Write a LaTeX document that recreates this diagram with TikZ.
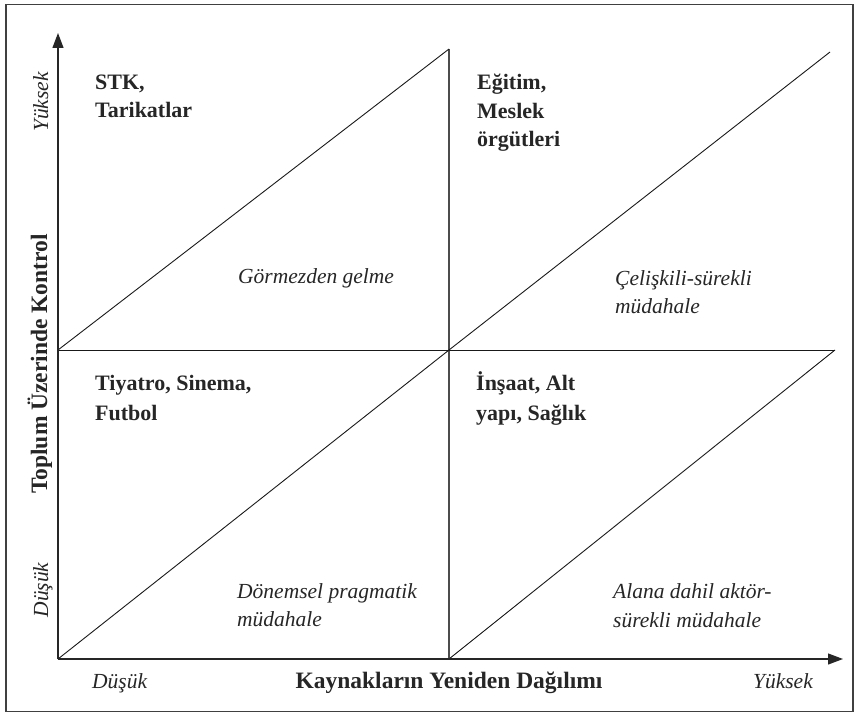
\documentclass[tikz,border=0pt]{standalone}
\usepackage{fontspec}
\setmainfont{Liberation Serif}
\usetikzlibrary{arrows.meta}
\begin{document}
\begin{tikzpicture}[x=1pt,y=-1pt,
  frame/.style={draw=black!75,line width=1.4pt},
  axis/.style={draw=black!85,line width=1.2pt,-{Triangle[length=15pt,width=11pt]}},
  midline/.style={draw=black!70,line width=1.3pt},
  grid/.style={draw=black!90,line width=0.9pt},
  bl/.style={font=\fontsize{22}{28}\selectfont\bfseries,anchor=base west,inner sep=0pt,text=black!85},
  it/.style={font=\fontsize{21.5}{28}\selectfont\itshape,anchor=base west,inner sep=0pt,text=black!85},
  axl/.style={font=\fontsize{21.5}{26}\selectfont\itshape,inner sep=0pt,text=black!85},
  axt/.style={font=\fontsize{23.5}{26}\selectfont\bfseries,inner sep=0pt,text=black!85}]
\useasboundingbox (0,0) rectangle (859,714);
\draw[frame] (6,4.5) rectangle (853,711.5);
% coordinates
\coordinate (O) at (58,659);
\coordinate (ytop) at (58,33);
\coordinate (xend) at (843,659);
\coordinate (ML) at (58,350);
\coordinate (C) at (449,350);
\coordinate (MR) at (835,350);
\coordinate (MB) at (449,659);
\coordinate (MT) at (449,49);
\coordinate (RT) at (830,52);
% grid lines
\draw[midline] (MB) -- (MT);
\draw[grid] (ML) -- (MR);
\draw[grid] (O) -- (C);
\draw[grid] (ML) -- (MT);
\draw[grid] (C) -- (RT);
\draw[grid] (MB) -- (MR);
% axes
\draw[axis] (O) -- (ytop);
\draw[axis] (O) -- (xend);
% quadrant labels
\node[bl] (stk1) at (95,90) {STK,};
\node[bl] (stk2) at (95,118) {Tarikatlar};
\node[bl] (egt1) at (477,90) {Eğitim,};
\node[bl] (egt2) at (477,119) {Meslek};
\node[bl] (egt3) at (477,147) {örgütleri};
\node[bl] (tiy1) at (95,390) {Tiyatro, Sinema,};
\node[bl] (tiy2) at (95,420) {Futbol};
\node[bl] (ins1) at (476,390) {İnşaat, Alt};
\node[bl] (ins2) at (476,420) {yapı, Sağlık};
\node[it] (gor) at (238,283) {Görmezden gelme};
\node[it] (cel1) at (615,285) {Çelişkili-sürekli};
\node[it] (cel2) at (615,313) {müdahale};
\node[it] (don1) at (237,598) {Dönemsel pragmatik};
\node[it] (don2) at (237,626) {müdahale};
\node[it] (ala1) at (613,598) {Alana dahil aktör-};
\node[it] (ala2) at (613,627) {sürekli müdahale};
% axis labels
\node[axl,anchor=base west] (xl) at (92,688) {Düşük};
\node[axt,anchor=base] (xt) at (449,688) {Kaynakların Yeniden Dağılımı};
\node[axl,anchor=base east] (xh) at (813,688) {Yüksek};
\node[axl,rotate=90,anchor=base] (yh) at (48,102) {Yüksek};
\node[axt,rotate=90,anchor=base] (yt) at (47,364) {Toplum Üzerinde Kontrol};
\node[axl,rotate=90,anchor=base] (yl) at (48,590) {Düşük};
\end{tikzpicture}
\end{document}
